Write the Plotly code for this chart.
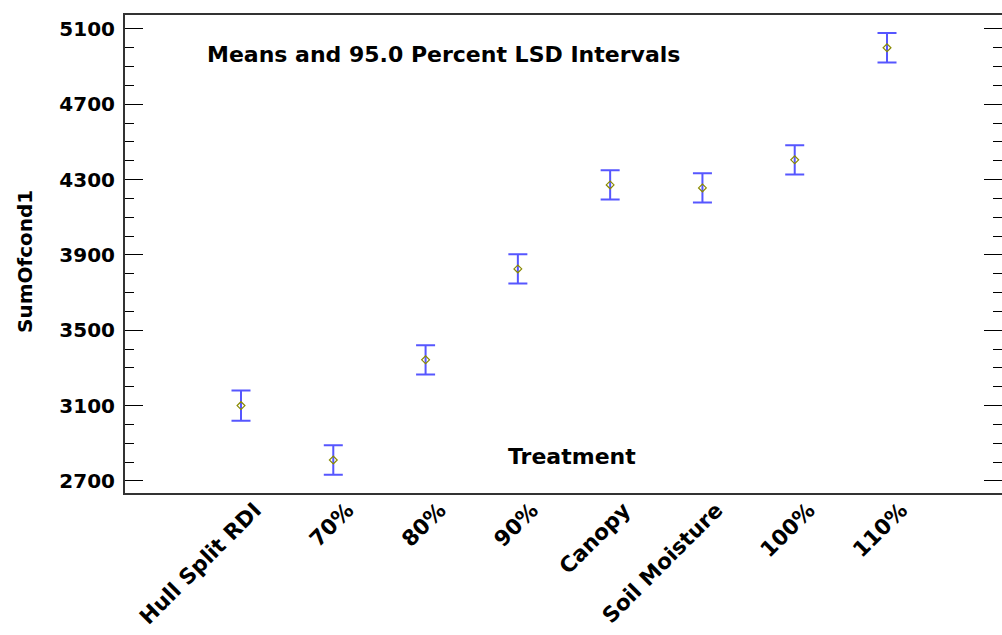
import plotly.graph_objects as go

categories = ["Hull Split RDI", "70%", "80%", "90%", "Canopy", "Soil Moisture", "100%", "110%"]
means = [3100, 2811, 3343, 3826, 4272, 4256, 4405, 5000]
lsd_half = [80, 78, 78, 78, 78, 78, 78, 78]
y_ticks = [2700, 3100, 3500, 3900, 4300, 4700, 5100]

FONT = "DejaVu Sans, Arial, sans-serif"
xs = list(range(len(categories)))

L, R, T, B = 125, 1002, 15, 493


def px_x(px):
    return (px - L) / (R - L)


def px_y(py):
    return (B - py) / (B - T)


fig = go.Figure()
fig.add_trace(go.Scatter(
    x=xs, y=means, mode="markers",
    marker=dict(symbol="diamond-open", size=6, color="#8a8a00", line=dict(width=1.2, color="#9a9a10")),
    error_y=dict(type="data", array=lsd_half, visible=True, color="rgba(30,30,255,0.75)",
                 thickness=2, width=9.5),
    showlegend=False,
))

fig.update_layout(
    width=1002, height=635,
    margin=dict(l=L, r=1002 - R, t=T, b=635 - B),
    paper_bgcolor="white", plot_bgcolor="white",
    font=dict(family=FONT, color="black"),
    xaxis=dict(
        range=[-1.257, 8.246], tickmode="array", tickvals=xs, ticktext=categories,
        tickangle=-45, tickfont=dict(size=21.5, family=FONT, weight="bold"),
        ticklabelshift=14, ticklabelstandoff=-6, automargin=False,
        showline=True, linecolor="#333", linewidth=2, mirror=True,
        showgrid=False, zeroline=False, ticks="",
    ),
    yaxis=dict(
        range=[2636, 5174], tickmode="array", tickvals=y_ticks,
        tickfont=dict(size=20, family=FONT, weight="bold"),
        showline=True, linecolor="#333", linewidth=2, mirror="ticks",
        ticks="inside", ticklen=18, tickcolor="black", tickwidth=1,
        minor=dict(dtick=100, ticks="inside", ticklen=9, tickcolor="black", tickwidth=1),
        showgrid=False, zeroline=False, ticklabelstandoff=4, automargin=False,
    ),
    annotations=[
        dict(text="<b>Means and 95.0 Percent LSD Intervals</b>", x=px_x(443), y=px_y(54),
             xref="paper", yref="paper", xanchor="center", yanchor="middle", showarrow=False,
             font=dict(size=22, family=FONT)),
        dict(text="<b>Treatment</b>", x=px_x(572), y=px_y(456),
             xref="paper", yref="paper", xanchor="center", yanchor="middle", showarrow=False,
             font=dict(size=22, family=FONT)),
        dict(text="<b>SumOfcond1</b>", x=px_x(25), y=px_y(262),
             xref="paper", yref="paper", xanchor="center", yanchor="middle", showarrow=False,
             textangle=-90, font=dict(size=20, family=FONT)),
    ],
)

fig.write_html("out.html")
